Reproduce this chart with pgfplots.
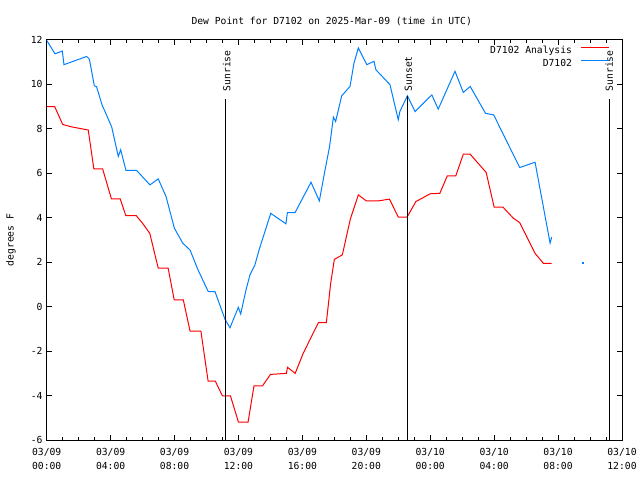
\documentclass[border=0pt]{standalone}
\usepackage{fontspec}
\setmainfont{DejaVu Sans Mono}
\usepackage{pgfplots}
\pgfplotsset{compat=1.18}
\definecolor{webblue}{HTML}{0080FF}
\begin{document}
\fontsize{9.7bp}{12bp}\selectfont
\begin{tikzpicture}
\useasboundingbox (0,0) rectangle (640bp,480bp);
\begin{axis}[
  at={(46.7bp,40bp)}, anchor=south west,
  scale only axis, width=575.3bp, height=400bp,
  xmin=0, xmax=36, ymin=-6, ymax=12,
  xtick={0,4,...,36}, minor x tick num=3,
  xticklabels={{03/09\\00:00},{03/09\\04:00},{03/09\\08:00},{03/09\\12:00},{03/09\\16:00},{03/09\\20:00},{03/10\\00:00},{03/10\\04:00},{03/10\\08:00},{03/10\\12:00}},
  ytick={-6,-4,...,12},
  /pgf/number format/assume math mode=true,
  major tick length=5bp, minor tick length=3bp,
  tick style={black, line width=1bp},
  axis line style={black, line width=1bp},
  xticklabel style={align=center, inner sep=0pt, yshift=-8bp, font=\fontsize{9.7bp}{14bp}\selectfont},
  yticklabel style={inner sep=0pt, xshift=-4bp},
  ylabel={degrees F},
  every axis y label/.style={at={(axis description cs:-0.062,0.5)}, rotate=90, anchor=center, inner sep=0pt},
  title={Dew Point for D7102 on 2025-Mar-09 (time in UTC)},
  every axis title/.style={at={(axis description cs:0.4954,1.039)}, anchor=base, inner sep=0pt},
  legend plot pos=right,
  legend cell align=right,
  legend image code/.code={\draw[#1] (0bp,3.5bp) -- (28bp,3.5bp);},
  legend style={draw=none, fill=none, at={(1,1)}, anchor=north east, xshift=-13bp, yshift=-6.5bp, inner sep=0pt, outer sep=0pt,
    nodes={inner sep=0pt, text height=7bp, text depth=2bp}, row sep=3.7bp, column sep=8bp},
]
\addplot[red, line width=1bp] coordinates {
(0,9.0) (0.5,9.0) (1.0,8.2) (1.5,8.1) (2.0,8.03) (2.6,7.95) (2.7,7.45) (2.95,6.2) (3.5,6.2)
(4.05,4.85) (4.6,4.85) (4.95,4.1) (5.6,4.1) (6.0,3.75) (6.45,3.3) (6.98,1.73) (7.6,1.73)
(7.98,0.3) (8.55,0.3) (8.97,-1.1) (9.65,-1.1) (10.1,-3.35) (10.55,-3.35) (11.0,-4.02)
(11.5,-4.02) (12.0,-5.2) (12.6,-5.2) (12.97,-3.57) (13.5,-3.57) (14.0,-3.05) (15.0,-3.0)
(15.07,-2.73) (15.55,-3.0) (16.05,-2.1) (17.0,-0.72) (17.5,-0.72) (17.77,1.05) (18.0,2.13)
(18.5,2.33) (19.0,3.94) (19.5,5.03) (20.0,4.76) (20.75,4.76) (21.45,4.84) (22.0,4.03)
(22.55,4.03) (23.1,4.73) (24.0,5.08) (24.6,5.1) (25.07,5.89) (25.6,5.89) (26.07,6.86)
(26.5,6.86) (27.5,6.04) (28.0,4.48) (28.55,4.48) (29.2,3.98) (29.6,3.78) (30.56,2.4)
(31.08,1.95) (31.6,1.95)
};
\addlegendentry{D7102 Analysis}
\addplot[webblue, line width=1bp] coordinates {
(0.0,11.98) (0.52,11.38) (0.98,11.5) (1.08,10.89) (2.5,11.26) (2.67,11.14) (2.98,9.94)
(3.12,9.9) (3.48,9.04) (3.65,8.78) (4.07,8.08) (4.48,6.76) (4.63,7.06) (4.96,6.13)
(5.63,6.13) (6.46,5.48) (6.98,5.75) (7.47,4.95) (7.99,3.53) (8.51,2.86) (8.97,2.55)
(9.49,1.62) (10.11,0.68) (10.53,0.68) (11.16,-0.57) (11.47,-0.95) (11.99,-0.03)
(12.14,-0.33) (12.47,0.75) (12.72,1.43) (13.03,1.88) (13.3,2.58) (14.02,4.2) (14.97,3.73)
(15.06,4.23) (15.54,4.23) (16.54,5.6) (17.06,4.76) (17.42,6.16) (17.7,7.2) (17.94,8.53)
(18.08,8.33) (18.46,9.49) (18.98,9.91) (19.23,10.96) (19.5,11.64) (20.03,10.89)
(20.48,11.04) (20.6,10.66) (21.48,9.99) (22.0,8.41) (22.1,8.78) (22.57,9.49) (23.05,8.78)
(24.1,9.53) (24.5,8.89) (25.55,10.59) (26.07,9.64) (26.5,9.91) (27.46,8.7) (27.97,8.63)
(29.6,6.26) (30.56,6.5) (31.5,2.86) (31.6,3.13)
};
\addlegendentry{D7102}
\addplot[webblue, only marks, mark=square*, mark size=0.5bp, forget plot] coordinates {(33.52,2.0)};
\addplot[black, line width=1bp, forget plot] coordinates {(11.16,-6) (11.16,9.35)};
\addplot[black, line width=1bp, forget plot] coordinates {(22.57,-6) (22.57,9.47)};
\addplot[black, line width=1bp, forget plot] coordinates {(35.19,-6) (35.19,9.35)};
\node[rotate=90, anchor=west, inner sep=0pt] at (axis cs:11.27,9.68) {Sunrise};
\node[rotate=90, anchor=west, inner sep=0pt] at (axis cs:22.63,9.68) {Sunset};
\node[rotate=90, anchor=west, inner sep=0pt] at (axis cs:35.2,9.68) {Sunrise};
\end{axis}
\end{tikzpicture}
\end{document}
